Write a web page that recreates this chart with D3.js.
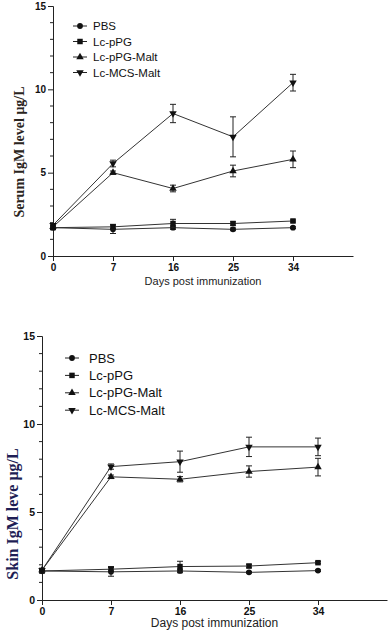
<!DOCTYPE html>
<html>
<head>
<meta charset="utf-8">
<script src="https://cdn.jsdelivr.net/npm/d3@7"></script>
<style>
  body { margin: 0; background: #fff; }
  svg { display: block; }
</style>
</head>
<body>
<div id="viz"></div>
<script>
var days = ["0", "7", "16", "25", "34"];
var groups = ["PBS", "Lc-pPG", "Lc-pPG-Malt", "Lc-MCS-Malt"];
var yTicks = [0, 5, 10, 15];

// serum IgM (top panel)
var serumPBS = [1.7, 1.6, 1.7, 1.6, 1.7];
var serumPBSErr = [0.1, 0.25, 0.1, 0.08, 0.05];
var serumPPG = [1.7, 1.75, 1.95, 1.95, 2.1];
var serumPPGErr = [0.1, 0.15, 0.25, 0.1, 0.06];
var serumMalt = [1.75, 5.0, 4.05, 5.1, 5.8];
var serumMaltErr = [0.1, 0.1, 0.2, 0.35, 0.5];
var serumMCS = [1.85, 5.55, 8.55, 7.15, 10.4];
var serumMCSErr = [0.1, 0.2, 0.55, 1.2, 0.5];

// skin IgM (bottom panel)
var skinPBS = [1.65, 1.6, 1.65, 1.57, 1.67];
var skinPBSErr = [0.1, 0.25, 0.1, 0.05, 0.05];
var skinPPG = [1.65, 1.75, 1.9, 1.93, 2.12];
var skinPPGErr = [0.1, 0.15, 0.3, 0.1, 0.06];
var skinMalt = [1.7, 7.0, 6.86, 7.3, 7.55];
var skinMaltErr = [0.1, 0.1, 0.15, 0.32, 0.5];
var skinMCS = [1.7, 7.58, 7.86, 8.7, 8.7];
var skinMCSErr = [0.1, 0.15, 0.6, 0.55, 0.5];

var symbols = [
    {type: d3.symbolCircle, size: 26, rot: 0},
    {type: d3.symbolSquare, size: 30, rot: 0},
    {type: d3.symbolTriangle, size: 24, rot: 0},
    {type: d3.symbolTriangle, size: 24, rot: 180}
];

var svg = d3.select("#viz")
    .append("svg")
    .attr("width", 388)
    .attr("height", 634);

function drawPanel(opt) {
    var g = svg.append("g");

    var x = d3.scalePoint()
        .domain(days.concat(["end"]))
        .range([opt.left, opt.right]);
    var y = d3.scaleLinear()
        .domain([0, 15])
        .range([opt.bottom, opt.top]);

    // y axis: major + minor ticks
    var yAxis = g.append("g")
        .attr("transform", "translate(" + opt.left + ",0)")
        .call(d3.axisLeft(y).tickValues(yTicks).tickSize(5).tickPadding(2));
    yAxis.selectAll(".tick text")
        .attr("font-family", "'Liberation Sans Narrow', 'Liberation Sans', Arial, sans-serif")
        .attr("font-weight", "bold")
        .attr("font-size", opt.tickFont);
    g.append("g")
        .attr("transform", "translate(" + opt.left + ",0)")
        .selectAll("line")
        .data(d3.range(0, 16).filter(function (v) { return v % 5 !== 0; }))
        .enter().append("line")
        .attr("x1", -3).attr("x2", 0)
        .attr("y1", function (d) { return y(d); })
        .attr("y2", function (d) { return y(d); })
        .attr("stroke", "#222");

    // x axis (categorical, with one empty slot at the end)
    var xAxis = g.append("g")
        .attr("transform", "translate(0," + opt.bottom + ")")
        .call(d3.axisBottom(x).tickValues(days).tickSize(5).tickPadding(3).tickSizeOuter(0));
    xAxis.selectAll(".tick text")
        .attr("font-family", "'Liberation Sans Narrow', 'Liberation Sans', Arial, sans-serif")
        .attr("font-weight", "bold")
        .attr("font-size", opt.tickFont);
    g.selectAll(".domain").attr("stroke", "#222");
    g.selectAll(".tick line").attr("stroke", "#222");
    g.selectAll(".tick text").attr("fill", "#111");

    g.append("text")
        .attr("x", (opt.left + opt.right) / 2)
        .attr("y", opt.bottom + opt.xLabelDy)
        .attr("text-anchor", "middle")
        .attr("font-family", "'Liberation Sans', Arial, sans-serif")
        .attr("font-size", opt.xLabelFont)
        .attr("fill", "#222")
        .text("Days post immunization");

    g.append("text")
        .attr("transform", "translate(" + opt.yLabelX + "," + opt.yLabelY + ") rotate(-90)")
        .attr("text-anchor", "middle")
        .attr("font-family", "'Liberation Serif', 'Times New Roman', serif")
        .attr("font-weight", "bold")
        .attr("font-size", opt.yLabelFont)
        .attr("fill", opt.yLabelColor)
        .text(opt.yLabel);

    var line = d3.line()
        .x(function (d, i) { return x(days[i]); })
        .y(function (d) { return y(d); });

    opt.series.forEach(function (s, k) {
        var sg = g.append("g");
        sg.append("path")
            .datum(s.values)
            .attr("d", line)
            .attr("fill", "none")
            .attr("stroke", "#333")
            .attr("stroke-width", 1);

        // error bars
        s.values.forEach(function (v, i) {
            var cx = x(days[i]);
            var hi = y(v + s.err[i]), lo = y(v - s.err[i]);
            sg.append("line")
                .attr("x1", cx).attr("x2", cx)
                .attr("y1", hi).attr("y2", lo)
                .attr("stroke", "#222");
            [hi, lo].forEach(function (yy) {
                sg.append("line")
                    .attr("x1", cx - 3).attr("x2", cx + 3)
                    .attr("y1", yy).attr("y2", yy)
                    .attr("stroke", "#222");
            });
        });

        var sym = symbols[k];
        sg.selectAll("path.pt")
            .data(s.values)
            .enter().append("path")
            .attr("class", "pt")
            .attr("d", d3.symbol().type(sym.type).size(sym.size))
            .attr("transform", function (d, i) {
                return "translate(" + x(days[i]) + "," + y(d) + ") rotate(" + sym.rot + ")";
            })
            .attr("fill", "#111");
    });

    // legend
    var lg = g.append("g");
    groups.forEach(function (name, k) {
        var ly = opt.legendY + k * opt.legendStep;
        lg.append("line")
            .attr("x1", opt.legendX - 7).attr("x2", opt.legendX + 7)
            .attr("y1", ly).attr("y2", ly)
            .attr("stroke", "#222");
        var sym = symbols[k];
        lg.append("path")
            .attr("d", d3.symbol().type(sym.type).size(sym.size))
            .attr("transform", "translate(" + opt.legendX + "," + ly + ") rotate(" + sym.rot + ")")
            .attr("fill", "#111");
        lg.append("text")
            .attr("x", opt.legendX + opt.legendTextDx)
            .attr("y", ly)
            .attr("dy", "0.35em")
            .attr("font-family", "'Liberation Sans', Arial, sans-serif")
            .attr("font-size", opt.legendFont)
            .attr("fill", "#111")
            .text(name);
    });
}

drawPanel({
    left: 53, right: 353, top: 6, bottom: 256,
    tickFont: 10, xLabelFont: 11, xLabelDy: 29,
    yLabel: "Serum IgM level \u03bcg/L", yLabelX: 24, yLabelY: 152,
    yLabelFont: 14, yLabelColor: "#2a2420",
    legendX: 80, legendY: 26, legendStep: 15.5, legendTextDx: 13, legendFont: 11.5,
    series: [
        {values: serumPBS, err: serumPBSErr},
        {values: serumPPG, err: serumPPGErr},
        {values: serumMalt, err: serumMaltErr},
        {values: serumMCS, err: serumMCSErr}
    ]
});

drawPanel({
    left: 42, right: 387, top: 336, bottom: 600,
    tickFont: 10.5, xLabelFont: 12, xLabelDy: 27,
    yLabel: "Skin IgM leve \u03bcg/L", yLabelX: 18, yLabelY: 514,
    yLabelFont: 16, yLabelColor: "#1e1e55",
    legendX: 72, legendY: 358, legendStep: 17.4, legendTextDx: 17, legendFont: 13,
    series: [
        {values: skinPBS, err: skinPBSErr},
        {values: skinPPG, err: skinPPGErr},
        {values: skinMalt, err: skinMaltErr},
        {values: skinMCS, err: skinMCSErr}
    ]
});
</script>
</body>
</html>
